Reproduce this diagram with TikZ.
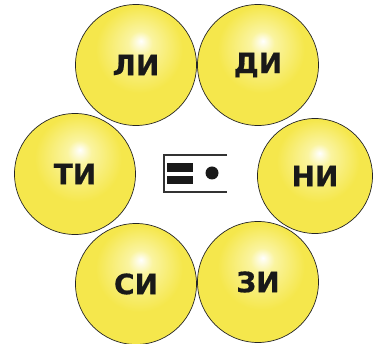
\documentclass[tikz,border=0pt]{standalone}
\usepackage{fontspec}
\setmainfont{DejaVu Sans}
\newfontfamily\sylfont[FakeBold=0.6]{DejaVu Sans Bold}
\definecolor{yel}{RGB}{245,231,76}
\definecolor{yellight}{RGB}{250,244,160}
\pgfdeclareradialshading{yball}{\pgfpoint{2bp}{10bp}}{%
  color(0bp)=(white); color(5bp)=(yellight); color(18bp)=(yel); color(50bp)=(yel)}
\tikzset{
  syl/.style={circle, minimum size=121pt, inner sep=0pt, draw=black!85, line width=0.7pt,
    shading=yball, font=\fontsize{28}{28}\sylfont, text=black!90},
}
\begin{document}
\begin{tikzpicture}[x=1pt,y=-1pt]
\useasboundingbox[fill=white] (0,0) rectangle (375,344);
\node[syl] (li) at (136,65) {ЛИ};
\node[syl] (di) at (258,65) {ДИ};
\node[syl] (ti) at (75,174) {ТИ};
\node[syl, minimum size=115pt] (ni) at (315,176) {НИ};
\node[syl] (si) at (136,284) {СИ};
\node[syl] (zi) at (258,282) {ЗИ};
% central symbol
\draw[line width=1.2pt, black!80] (227,155) -- (164,155) -- (164,192) -- (227,192);
\fill[black!90] (167,163) rectangle (193,172);
\fill[black!90] (167,176) rectangle (193,184);
\fill[black!90] (212,173) circle (6.5);
\end{tikzpicture}
\end{document}
